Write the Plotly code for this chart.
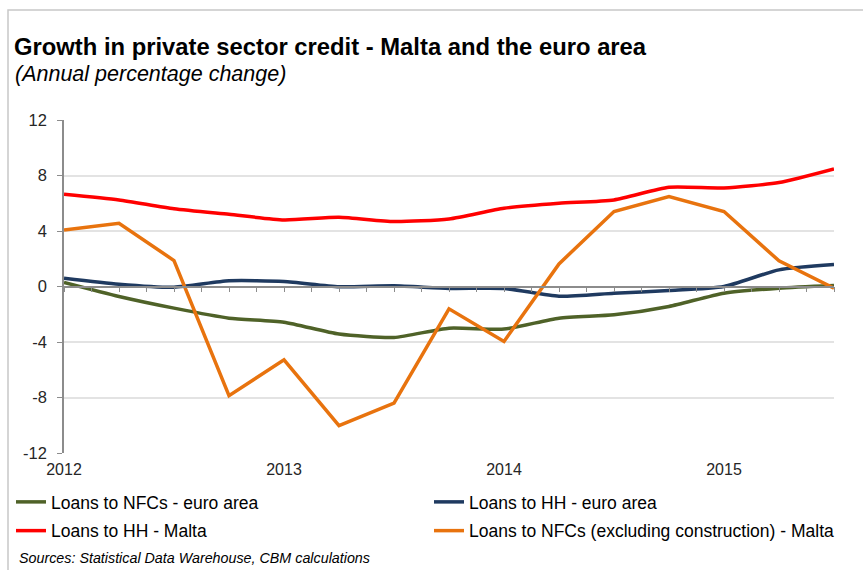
import plotly.graph_objects as go

# quarterly observations, as fractional years
periodos = [2012.0, 2012.25, 2012.5, 2012.75,
            2013.0, 2013.25, 2013.5, 2013.75,
            2014.0, 2014.25, 2014.5, 2014.75,
            2015.0, 2015.25, 2015.5]

nfc_euro = [0.29, -0.72, -1.56, -2.28, -2.57, -3.43, -3.67, -3.0,
            -3.07, -2.28, -2.04, -1.44, -0.48, -0.12, 0.07]
hh_euro = [0.6, 0.17, -0.05, 0.41, 0.36, -0.02, 0.05, -0.14,
           -0.14, -0.7, -0.48, -0.29, 0.0, 1.2, 1.58]
hh_malta = [6.65, 6.24, 5.6, 5.2, 4.8, 4.99, 4.68, 4.87,
            5.64, 6.0, 6.24, 7.15, 7.1, 7.49, 8.47]
nfc_malta = [4.08, 4.56, 1.87, -7.87, -5.28, -10.03, -8.4, -1.61,
             -3.96, 1.63, 5.4, 6.48, 5.4, 1.85, -0.12]

anos = [2012, 2013, 2014, 2015]
y_ticks = [-12, -8, -4, 0, 4, 8, 12]

COR_TEXTO = "#262626"
COR_EIXO = "#8c8c8c"
COR_GRADE = "#e3e3e3"
FONTE = "Liberation Sans"

# plot area in pixels: x 64..834, y 120..453
L, R, T, B = 64, 834, 120, 453
W, H = 863, 570


def px_x(p):
    return (p - L) / (R - L)


def px_y(p):
    return (B - p) / (B - T)


# (name, values, colour, line shape, legend column)
series = [
    ("Loans to NFCs - euro area", nfc_euro, "#4f6228", "spline", "legend"),
    ("Loans to HH - euro area", hh_euro, "#1f3a60", "spline", "legend2"),
    ("Loans to HH - Malta", hh_malta, "#ff0000", "spline", "legend"),
    ("Loans to NFCs (excluding construction) - Malta", nfc_malta, "#e8730e", "linear", "legend2"),
]

fig = go.Figure()

# invisible trace to carry the zero-line axis with its tick marks
fig.add_trace(go.Scatter(x=[periodos[0], periodos[-1]], y=[0, 0], xaxis="x2",
                         mode="lines", line=dict(width=0), showlegend=False,
                         hoverinfo="skip"))

for i, (nome, valores, cor, forma, leg) in enumerate(series):
    fig.add_trace(go.Scatter(
        x=periodos, y=valores, name=nome, mode="lines", legend=leg,
        legendgroup=f"g{i}",
        line=dict(color=cor, width=3.5, shape=forma, smoothing=0.6),
        cliponaxis=False,
    ))

leg_base = dict(
    orientation="v", yanchor="top", xanchor="left",
    font=dict(size=17.5, color="#000000", family=FONTE),
    itemwidth=30, tracegroupgap=3, bgcolor="rgba(0,0,0,0)",
)

fig.update_layout(
    width=W, height=H,
    paper_bgcolor="white", plot_bgcolor="white",
    font=dict(family=FONTE, color=COR_TEXTO, size=16),
    margin=dict(l=L, r=W - R, t=T, b=H - B, autoexpand=False),
    title=dict(
        text="<b>Growth in private sector credit - Malta and the euro area</b>",
        x=14 / W, xanchor="left", xref="container",
        y=1 - 47 / H, yanchor="middle", yref="container",
        font=dict(size=23.8, color="#000000", family=FONTE),
    ),
    xaxis=dict(
        range=[2012, 2015.5], tickvals=anos, ticktext=[str(a) for a in anos],
        showgrid=False, zeroline=False, showline=False, ticks="",
        tickfont=dict(size=16, color=COR_TEXTO), ticklabelstandoff=5,
    ),
    xaxis2=dict(
        range=[2012, 2015.5], overlaying="x", anchor="free", position=0.5,
        side="bottom", showgrid=False, zeroline=False, showline=True,
        linecolor=COR_EIXO, linewidth=1.5, ticks="outside", ticklen=5,
        tickcolor=COR_EIXO, dtick=0.125, tick0=2012, showticklabels=False,
    ),
    yaxis=dict(
        range=[-12, 12], tickvals=y_ticks, ticktext=[str(v) for v in y_ticks],
        showgrid=True, gridcolor=COR_GRADE,
        gridwidth=1.5, zeroline=False, showline=True, linecolor=COR_EIXO,
        linewidth=1.5, ticks="outside", ticklen=5, tickcolor=COR_EIXO,
        tickfont=dict(size=16.5, color=COR_TEXTO), ticklabelstandoff=7,
    ),
    legend=dict(leg_base, x=px_x(11), y=px_y(484)),
    legend2=dict(leg_base, x=px_x(429), y=px_y(484)),
    showlegend=True,
)

fig.add_annotation(
    text="<i>(Annual percentage change)</i>", xref="paper", yref="paper",
    x=px_x(13), y=px_y(74), xanchor="left", yanchor="middle",
    showarrow=False, font=dict(size=21.5, color="#000000", family=FONTE),
)
fig.add_annotation(
    text="<i>Sources: Statistical Data Warehouse, CBM calculations</i>",
    xref="paper", yref="paper", x=px_x(17), y=px_y(558),
    xanchor="left", yanchor="middle", showarrow=False,
    font=dict(size=14.3, color="#000000", family=FONTE),
)

# chart frame (top and left edges visible)
fig.add_shape(type="path", xref="paper", yref="paper",
              path=f"M {px_x(8)} {px_y(H + 5)} L {px_x(8)} {px_y(10)} L {px_x(W + 5)} {px_y(10)}",
              line=dict(color="#c8c8c8", width=1.5))

fig.write_html("out.html", config={"displayModeBar": False},
               post_script="document.body.style.margin='0';")
